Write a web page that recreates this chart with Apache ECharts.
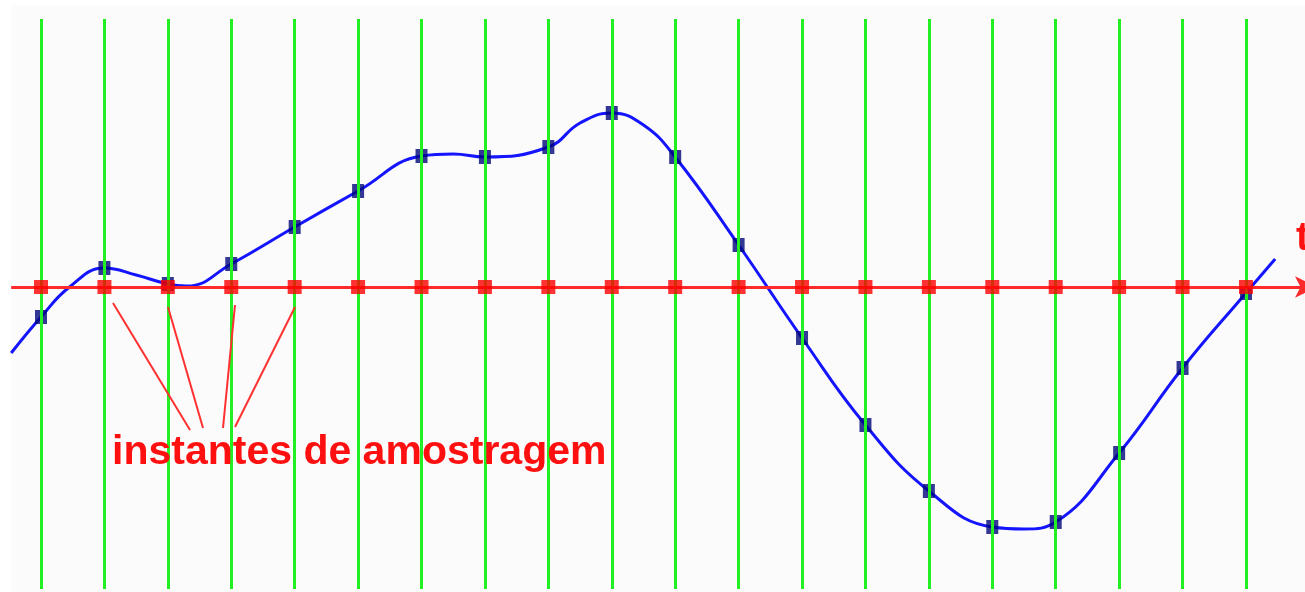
<!DOCTYPE html>
<html>
<head>
<meta charset="utf-8">
<script src="https://cdn.jsdelivr.net/npm/echarts@6/dist/echarts.min.js"></script>
<style>
  html, body { margin: 0; padding: 0; background: #ffffff; overflow: hidden; }
  /* um pouco mais largo que a janela: a ponta da seta fica cortada como no original */
  #chart { width: 1317px; height: 592px; }
</style>
</head>
<body>
<div id="chart"></div>
<script>
// instantes de amostragem (indice da amostra)
const sampleIdx = [0, 1, 2, 3, 4, 5, 6, 7, 8, 9, 10, 11, 12, 13, 14, 15, 16, 17, 18, 19]
// valor do sinal em cada instante
const sampleVals = [-0.30, 0.19, 0.03, 0.23, 0.60, 0.96, 1.31, 1.30, 1.40, 1.74,
  1.30, 0.42, -0.51, -1.38, -2.04, -2.40, -2.35, -1.66, -0.81, -0.06]
// pontos do sinal continuo entre as amostras
const curveExtraT = [-0.47, 0.45, 1.5, 2.3, 6.5, 8.5, 9.5, 15.5, 19.46]
const curveExtraV = [-0.66, 0.00, 0.12, 0.01, 1.33, 1.64, 1.62, -2.42, 0.28]

const labelText = 'instantes de amostragem'
const axisLabel = 't'

// escalas
const xMin = -0.6465
const xMax = 20.12
const yMin = -3.05
const yMax = 2.87

const curve = sampleIdx.map((t, i) => [t, sampleVals[i]])
  .concat(curveExtraT.map((t, i) => [t, curveExtraV[i]]))
  .sort((a, b) => a[0] - b[0])

const samples = sampleIdx.map((t, i) => [t, sampleVals[i]])
const axisPoints = sampleIdx.map(t => [t, 0])

const chart = echarts.init(document.getElementById('chart'))

chart.setOption({
  animation: false,
  backgroundColor: '#ffffff',
  grid: { left: 0, right: 0, top: 0, bottom: 0 },
  xAxis: { type: 'value', min: xMin, max: xMax, show: false },
  yAxis: { type: 'value', min: yMin, max: yMax, show: false },
  graphic: [
    {
      type: 'rect', z: -10, silent: true,
      shape: { x: 11, y: 5, width: 1310, height: 590 },
      style: { fill: '#fbfbfb' }
    },
    // linhas de chamada
    { type: 'line', z: 10, shape: { x1: 113, y1: 303, x2: 190, y2: 430 }, style: { stroke: '#ff3030', lineWidth: 2 } },
    { type: 'line', z: 10, shape: { x1: 168, y1: 307, x2: 203, y2: 428 }, style: { stroke: '#ff3030', lineWidth: 2 } },
    { type: 'line', z: 10, shape: { x1: 235, y1: 305, x2: 223, y2: 428 }, style: { stroke: '#ff3030', lineWidth: 2 } },
    { type: 'line', z: 10, shape: { x1: 295, y1: 307, x2: 235, y2: 427 }, style: { stroke: '#ff3030', lineWidth: 2 } },
    {
      type: 'text', z: 10, left: 112, top: 432,
      style: {
        text: labelText, fill: '#ff1010',
        font: 'bold 41px "Liberation Sans", Arial, sans-serif'
      }
    },
    {
      type: 'text', z: 10, left: 1296, top: 219,
      style: {
        text: axisLabel, fill: '#ff1010',
        font: 'bold 40px "Liberation Sans", Arial, sans-serif'
      }
    }
  ],
  series: [
    {
      // grade de amostragem (verde)
      type: 'line',
      data: [],
      z: 1,
      markLine: {
        silent: true,
        symbol: ['none', 'none'],
        label: { show: false },
        lineStyle: { color: '#22f022', width: 3, type: 'solid' },
        data: sampleIdx.map(t => [{ coord: [t, 2.68] }, { coord: [t, -3.02] }])
      }
    },
    {
      // eixo t (vermelho)
      type: 'line',
      data: [],
      z: 2,
      markLine: {
        silent: true,
        symbol: ['none', 'arrow'],
        symbolSize: [16, 22],
        label: { show: false },
        lineStyle: { color: '#ff2a2a', width: 3, type: 'solid' },
        data: [[{ coord: [-0.47, 0] }, { coord: [xMax, 0] }]]
      }
    },
    {
      name: 'sinal',
      type: 'line',
      data: curve,
      smooth: 0.45,
      showSymbol: false,
      z: 3,
      lineStyle: { color: '#1414ff', width: 3 }
    },
    {
      name: 'amostras',
      type: 'scatter',
      data: samples,
      symbol: 'rect',
      symbolSize: [12, 14],
      z: 4,
      itemStyle: { color: '#00087a' }
    },
    {
      name: 'instantes',
      type: 'scatter',
      data: axisPoints,
      symbol: 'rect',
      symbolSize: 14,
      z: 5,
      itemStyle: { color: '#ff0000' }
    }
  ]
})
</script>
</body>
</html>
